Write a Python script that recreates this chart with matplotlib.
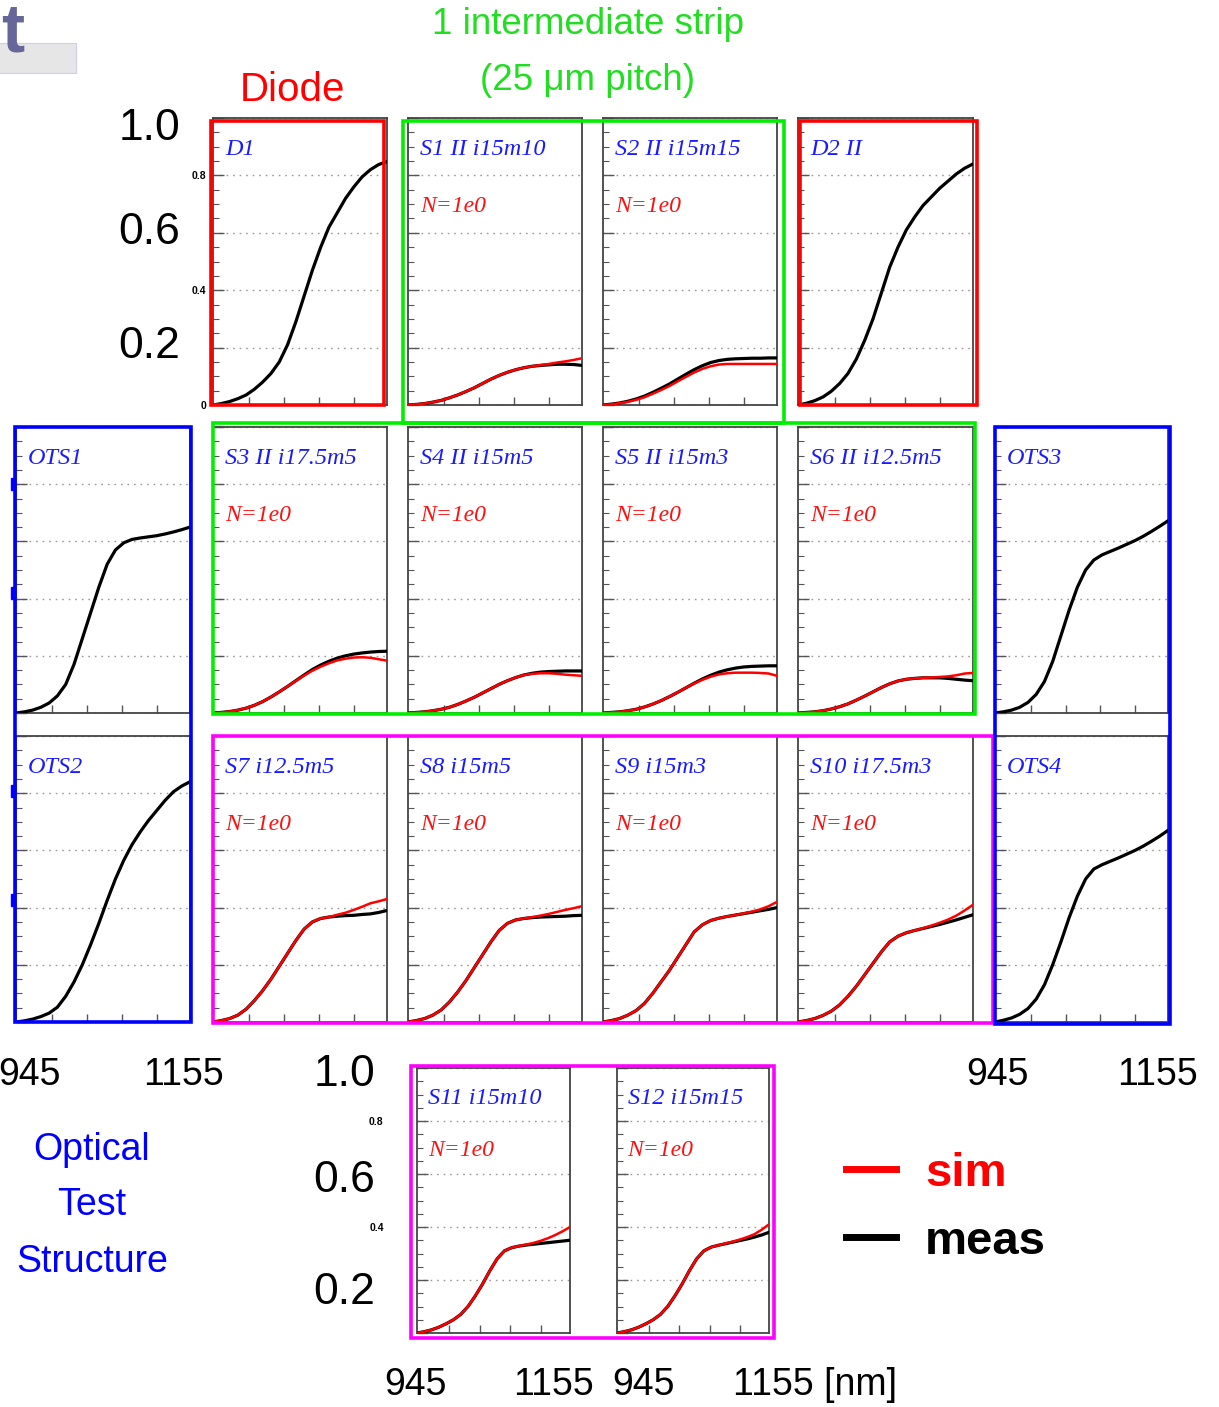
import matplotlib
matplotlib.use("Agg")
import matplotlib.pyplot as plt
from matplotlib.patches import Rectangle
from matplotlib.lines import Line2D

# ---------------------------------------------------------------- data
WAVELENGTH_NM = [945, 955, 965, 975, 985, 995, 1005, 1015, 1025, 1035, 1045,
                 1055, 1065, 1075, 1085, 1095, 1105, 1115, 1125, 1135, 1145, 1155]

D1_MEAS = [0.000, 0.005, 0.012, 0.022, 0.035, 0.055, 0.080, 0.110, 0.150, 0.210, 0.290,
           0.380, 0.470, 0.550, 0.620, 0.670, 0.720, 0.760, 0.795, 0.820, 0.838, 0.848]
D2_MEAS = [0.000, 0.006, 0.015, 0.028, 0.048, 0.075, 0.110, 0.160, 0.225, 0.300, 0.390,
           0.480, 0.550, 0.610, 0.655, 0.695, 0.725, 0.755, 0.780, 0.805, 0.825, 0.840]
OTS1_MEAS = [0.000, 0.004, 0.010, 0.020, 0.035, 0.060, 0.100, 0.170, 0.260, 0.350, 0.440,
             0.520, 0.570, 0.595, 0.607, 0.612, 0.616, 0.620, 0.626, 0.633, 0.641, 0.650]
OTS2_MEAS = [0.000, 0.004, 0.010, 0.019, 0.031, 0.052, 0.090, 0.140, 0.200, 0.270, 0.345,
             0.425, 0.500, 0.565, 0.620, 0.665, 0.705, 0.740, 0.775, 0.805, 0.825, 0.840]
OTS3_MEAS = [0.000, 0.004, 0.010, 0.020, 0.037, 0.065, 0.110, 0.180, 0.270, 0.360, 0.440,
             0.500, 0.535, 0.553, 0.565, 0.577, 0.590, 0.603, 0.618, 0.635, 0.653, 0.672]
OTS4_MEAS = [0.000, 0.006, 0.014, 0.027, 0.047, 0.080, 0.130, 0.200, 0.280, 0.365, 0.440,
             0.500, 0.535, 0.550, 0.562, 0.574, 0.587, 0.600, 0.615, 0.632, 0.650, 0.670]

S1_MEAS = [0.000, 0.002, 0.005, 0.010, 0.016, 0.025, 0.035, 0.047, 0.060, 0.075, 0.090,
           0.103, 0.114, 0.123, 0.130, 0.135, 0.138, 0.140, 0.142, 0.142, 0.141, 0.138]
S1_SIM = [0.000, 0.002, 0.005, 0.010, 0.016, 0.025, 0.035, 0.047, 0.060, 0.075, 0.090,
          0.103, 0.114, 0.123, 0.130, 0.135, 0.139, 0.143, 0.148, 0.152, 0.157, 0.163]
S2_MEAS = [0.000, 0.003, 0.007, 0.013, 0.021, 0.031, 0.044, 0.058, 0.073, 0.090, 0.107,
           0.123, 0.137, 0.148, 0.155, 0.159, 0.161, 0.162, 0.163, 0.163, 0.164, 0.164]
S2_SIM = [0.000, 0.002, 0.006, 0.011, 0.018, 0.027, 0.039, 0.052, 0.066, 0.082, 0.098,
          0.113, 0.126, 0.135, 0.141, 0.143, 0.143, 0.143, 0.143, 0.143, 0.143, 0.143]
S3_MEAS = [0.000, 0.002, 0.005, 0.010, 0.017, 0.027, 0.040, 0.056, 0.074, 0.093, 0.113,
           0.133, 0.152, 0.168, 0.181, 0.192, 0.200, 0.206, 0.210, 0.213, 0.215, 0.216]
S3_SIM = [0.000, 0.002, 0.005, 0.010, 0.017, 0.027, 0.040, 0.056, 0.074, 0.093, 0.112,
          0.131, 0.148, 0.162, 0.174, 0.184, 0.190, 0.194, 0.195, 0.193, 0.188, 0.183]
S4_MEAS = [0.000, 0.002, 0.004, 0.008, 0.013, 0.020, 0.030, 0.042, 0.055, 0.070, 0.085,
           0.100, 0.113, 0.124, 0.133, 0.139, 0.143, 0.145, 0.146, 0.147, 0.147, 0.147]
S4_SIM = [0.000, 0.002, 0.004, 0.008, 0.013, 0.020, 0.030, 0.042, 0.055, 0.070, 0.085,
          0.100, 0.113, 0.124, 0.133, 0.137, 0.139, 0.139, 0.137, 0.134, 0.132, 0.130]
S5_MEAS = [0.000, 0.002, 0.004, 0.008, 0.013, 0.021, 0.031, 0.043, 0.057, 0.072, 0.088,
           0.104, 0.119, 0.132, 0.143, 0.151, 0.157, 0.161, 0.163, 0.164, 0.165, 0.165]
S5_SIM = [0.000, 0.002, 0.004, 0.008, 0.013, 0.021, 0.031, 0.043, 0.057, 0.072, 0.088,
          0.103, 0.116, 0.127, 0.135, 0.139, 0.141, 0.141, 0.141, 0.140, 0.138, 0.130]
S6_MEAS = [0.000, 0.002, 0.004, 0.008, 0.014, 0.022, 0.032, 0.045, 0.059, 0.074, 0.089,
           0.102, 0.112, 0.118, 0.121, 0.123, 0.123, 0.123, 0.121, 0.118, 0.115, 0.113]
S6_SIM = [0.000, 0.002, 0.004, 0.008, 0.014, 0.022, 0.032, 0.045, 0.059, 0.074, 0.089,
          0.102, 0.112, 0.118, 0.121, 0.123, 0.124, 0.126, 0.128, 0.132, 0.138, 0.140]
S7_MEAS = [0.000, 0.005, 0.012, 0.024, 0.045, 0.075, 0.110, 0.150, 0.195, 0.240, 0.285,
           0.325, 0.350, 0.362, 0.367, 0.370, 0.372, 0.373, 0.376, 0.378, 0.383, 0.390]
S7_SIM = [0.000, 0.005, 0.012, 0.024, 0.045, 0.075, 0.110, 0.150, 0.195, 0.240, 0.285,
          0.325, 0.350, 0.362, 0.367, 0.375, 0.382, 0.392, 0.403, 0.415, 0.422, 0.430]
S8_MEAS = [0.000, 0.005, 0.012, 0.024, 0.042, 0.070, 0.105, 0.145, 0.190, 0.235, 0.280,
           0.320, 0.345, 0.357, 0.362, 0.365, 0.367, 0.368, 0.369, 0.370, 0.372, 0.373]
S8_SIM = [0.000, 0.005, 0.012, 0.024, 0.042, 0.070, 0.105, 0.145, 0.190, 0.235, 0.280,
          0.320, 0.345, 0.357, 0.362, 0.367, 0.372, 0.378, 0.385, 0.392, 0.398, 0.405]
S9_MEAS = [0.000, 0.005, 0.012, 0.024, 0.040, 0.065, 0.100, 0.140, 0.180, 0.225, 0.270,
           0.315, 0.340, 0.355, 0.363, 0.369, 0.374, 0.379, 0.384, 0.389, 0.394, 0.400]
S9_SIM = [0.000, 0.005, 0.012, 0.024, 0.040, 0.065, 0.100, 0.140, 0.180, 0.225, 0.270,
          0.315, 0.340, 0.355, 0.363, 0.369, 0.374, 0.380, 0.386, 0.394, 0.405, 0.420]
S10_MEAS = [0.000, 0.005, 0.012, 0.023, 0.038, 0.060, 0.090, 0.125, 0.165, 0.205, 0.245,
            0.280, 0.300, 0.312, 0.320, 0.327, 0.334, 0.341, 0.349, 0.357, 0.366, 0.375]
S10_SIM = [0.000, 0.005, 0.012, 0.023, 0.038, 0.060, 0.090, 0.125, 0.165, 0.205, 0.245,
           0.280, 0.300, 0.312, 0.320, 0.328, 0.337, 0.347, 0.358, 0.372, 0.390, 0.410]
S11_MEAS = [0.000, 0.005, 0.012, 0.022, 0.035, 0.050, 0.070, 0.100, 0.140, 0.185, 0.235,
            0.280, 0.310, 0.322, 0.328, 0.332, 0.335, 0.338, 0.341, 0.344, 0.347, 0.350]
S11_SIM = [0.000, 0.005, 0.012, 0.022, 0.035, 0.050, 0.070, 0.100, 0.140, 0.185, 0.235,
           0.280, 0.310, 0.322, 0.328, 0.334, 0.340, 0.348, 0.358, 0.370, 0.384, 0.400]
S12_MEAS = [0.000, 0.005, 0.012, 0.022, 0.035, 0.050, 0.070, 0.100, 0.140, 0.185, 0.235,
            0.280, 0.310, 0.324, 0.331, 0.337, 0.343, 0.349, 0.355, 0.362, 0.370, 0.380]
S12_SIM = [0.000, 0.005, 0.012, 0.022, 0.035, 0.050, 0.070, 0.100, 0.140, 0.185, 0.235,
           0.280, 0.310, 0.324, 0.331, 0.338, 0.345, 0.353, 0.362, 0.373, 0.390, 0.410]

PANEL_TITLES = {
    "D1": "D1", "S1": "S1 II i15m10", "S2": "S2 II i15m15", "D2": "D2 II",
    "OTS1": "OTS1", "S3": "S3 II i17.5m5", "S4": "S4 II i15m5", "S5": "S5 II i15m3",
    "S6": "S6 II i12.5m5", "OTS3": "OTS3",
    "OTS2": "OTS2", "S7": "S7 i12.5m5", "S8": "S8 i15m5", "S9": "S9 i15m3",
    "S10": "S10 i17.5m3", "OTS4": "OTS4",
    "S11": "S11 i15m10", "S12": "S12 i15m15",
}
SIM_NOTE = "N=1e0"
Y_MAJOR = [0.0, 0.2, 0.4, 0.6, 0.8, 1.0]
D1_YLABELS = ["0", "", "0.4", "", "0.8", ""]
S11_YLABELS = ["", "", "0.4", "", "0.8", ""]
X_TICKS = [989, 1031, 1073, 1115]
LEGEND_LABELS = ["sim", "meas"]

MEAS = {"D1": D1_MEAS, "D2": D2_MEAS, "OTS1": OTS1_MEAS, "OTS2": OTS2_MEAS,
        "OTS3": OTS3_MEAS, "OTS4": OTS4_MEAS,
        "S1": S1_MEAS, "S2": S2_MEAS, "S3": S3_MEAS, "S4": S4_MEAS, "S5": S5_MEAS,
        "S6": S6_MEAS, "S7": S7_MEAS, "S8": S8_MEAS, "S9": S9_MEAS, "S10": S10_MEAS,
        "S11": S11_MEAS, "S12": S12_MEAS}
SIM = {"S1": S1_SIM, "S2": S2_SIM, "S3": S3_SIM, "S4": S4_SIM, "S5": S5_SIM,
       "S6": S6_SIM, "S7": S7_SIM, "S8": S8_SIM, "S9": S9_SIM, "S10": S10_SIM,
       "S11": S11_SIM, "S12": S12_SIM}

# ---------------------------------------------------------------- layout (pixels)
W, H, DPI = 1219, 1407, 100
COLS = [(16, 190), (213, 387), (408, 582), (603, 777), (798, 973), (995, 1168)]
ROWS = [(118, 405), (427, 713), (736, 1022)]
LAYOUT = {
    "D1": (1, 0), "S1": (2, 0), "S2": (3, 0), "D2": (4, 0),
    "OTS1": (0, 1), "S3": (1, 1), "S4": (2, 1), "S5": (3, 1), "S6": (4, 1), "OTS3": (5, 1),
    "OTS2": (0, 2), "S7": (1, 2), "S8": (2, 2), "S9": (3, 2), "S10": (4, 2), "OTS4": (5, 2),
}
ROW4 = {"S11": (417, 1068, 570, 1333), "S12": (617, 1068, 769, 1333)}

SANS = ["Liberation Sans", "DejaVu Sans"]
SERIF = ["Liberation Serif", "DejaVu Serif"]

fig = plt.figure(figsize=(W / DPI, H / DPI), dpi=DPI)
fig.patch.set_facecolor("white")


def fx(x):
    return x / W


def fy(y):
    return 1 - y / H


def add_ax(x0, y0, x1, y1):
    return fig.add_axes([fx(x0), fy(y1), (x1 - x0) / W, (y1 - y0) / H])


def style(ax, ylabels=None, ypad=3):
    ax.set_xlim(945, 1155)
    ax.set_ylim(0, 1.0)
    ax.set_xticks(X_TICKS)
    ax.set_xticklabels([])
    ax.set_yticks(Y_MAJOR)
    ax.set_yticks([0.05 * i for i in range(21)], minor=True)
    if ylabels is None:
        ax.set_yticklabels([])
    else:
        ax.set_yticklabels(ylabels, fontsize=7.5, fontweight="bold", family=SANS)
    ax.tick_params(axis="y", which="major", direction="in", length=8, width=1.0,
                   color="#555555", left=True, right=False, pad=ypad)
    ax.tick_params(axis="y", which="minor", direction="in", length=4, width=0.8,
                   color="#555555", left=True, right=False)
    ax.tick_params(axis="x", which="major", direction="in", length=6, width=1.0,
                   color="#555555", bottom=True, top=False)
    ax.grid(True, axis="y", which="major", linestyle=(0, (1.2, 3.5)),
            color="#9a9a9a", linewidth=1.0)
    for s in ax.spines.values():
        s.set_color("#444444")
        s.set_linewidth(1.3)
    ax.set_facecolor("white")


def draw_panel(ax, key, title_y, note_y):
    if key in MEAS:
        ax.plot(WAVELENGTH_NM, MEAS[key], color="black", lw=2.3, zorder=3,
                solid_joinstyle="round", solid_capstyle="round")
    if key in SIM:
        ax.plot(WAVELENGTH_NM, SIM[key], color="#ff0000", lw=1.8, zorder=4,
                solid_joinstyle="round")
        ax.text(0.07, note_y, SIM_NOTE, transform=ax.transAxes, color="#ff1010",
                fontsize=17, style="italic", family=SERIF, va="center", ha="left")
    ax.text(0.07, title_y, PANEL_TITLES[key], transform=ax.transAxes, color="#1a1aff",
            fontsize=17.5, style="italic", family=SERIF, va="center", ha="left")


for key, (c, r) in LAYOUT.items():
    x0, x1 = COLS[c]
    y0, y1 = ROWS[r]
    ax = add_ax(x0, y0, x1, y1)
    style(ax, ylabels=D1_YLABELS if key == "D1" else None, ypad=5)
    draw_panel(ax, key, 0.89, 0.69)

for key, (x0, y0, x1, y1) in ROW4.items():
    ax = add_ax(x0, y0, x1, y1)
    style(ax, ylabels=S11_YLABELS if key == "S11" else None, ypad=24)
    draw_panel(ax, key, 0.885, 0.69)

# ---------------------------------------------------------------- coloured frames
def frame(x0, y0, x1, y1, color, lw=2.6):
    fig.add_artist(Rectangle((fx(x0), fy(y1)), (x1 - x0) / W, (y1 - y0) / H,
                             transform=fig.transFigure, fill=False,
                             edgecolor=color, linewidth=lw, zorder=10))


RED, GREEN, BLUE, MAGENTA = "#ff0000", "#00ee00", "#0000ff", "#ff00ff"
frame(211, 121, 384, 405, RED)
frame(800, 121, 977, 405, RED)
frame(403, 121, 784, 423, GREEN)
frame(213, 423, 975, 714, GREEN)
frame(213, 736, 993, 1023, MAGENTA)
frame(411, 1066, 774, 1338, MAGENTA)
frame(15, 427, 191, 1022, BLUE)
frame(995, 427, 1170, 1024, BLUE)
for yy in (484, 593, 791, 900):
    fig.add_artist(Rectangle((fx(11), fy(yy + 6)), 4 / W, 12 / H, transform=fig.transFigure,
                             color=BLUE, zorder=10))

# ---------------------------------------------------------------- slide title remnant
fig.add_artist(Rectangle((fx(-2), fy(73)), 78 / W, 30 / H, transform=fig.transFigure,
                         facecolor="#e6e6e6", edgecolor="#ccccff", linewidth=0.8, zorder=1))
fig.text(fx(1), fy(33), "t", color="#666699", fontsize=50, fontweight="bold",
         family=SANS, ha="left", va="center", zorder=2)

# ---------------------------------------------------------------- annotations
def label(x, y, s, color="black", size=27, weight="normal", ha="center"):
    fig.text(fx(x), fy(y), s, color=color, fontsize=size, fontweight=weight,
             family=SANS, ha=ha, va="center")


label(292, 90, "Diode", color="#ff0000", size=29)
label(588, 25, "1 intermediate strip", color="#22dd22", size=26.5)
label(587, 80, "(25 \u03bcm pitch)", color="#22dd22", size=26.5)

label(180, 128, "1.0", size=32, ha="right")
label(180, 233, "0.6", size=32, ha="right")
label(180, 346, "0.2", size=32, ha="right")
label(375, 1075, "1.0", size=32, ha="right")
label(375, 1180, "0.6", size=32, ha="right")
label(375, 1293, "0.2", size=32, ha="right")

label(30, 1075, "945", size=27)
label(183, 1075, "1155", size=27)
label(998, 1075, "945", size=27)
label(1158, 1075, "1155", size=27)
label(416, 1385, "945", size=27)
label(553, 1385, "1155", size=27)
label(643, 1385, "945", size=27)
label(733, 1385, "1155 [nm]", size=27, ha="left")

label(92, 1150, "Optical", color="#0000ff", size=27)
label(92, 1205, "Test", color="#0000ff", size=27)
label(92, 1262, "Structure", color="#0000ff", size=27)

handles = [Line2D([], [], color="#ff0000", lw=5), Line2D([], [], color="black", lw=5)]
fig.legend(handles, LEGEND_LABELS, loc="upper left",
           bbox_to_anchor=(fx(846), fy(1152)), frameon=False, borderpad=0,
           borderaxespad=0, handlelength=1.05, handletextpad=0.62, labelspacing=0.5,
           labelcolor=["#ff0000", "black"],
           prop={"family": SANS, "weight": "bold", "size": 34})

fig.savefig("out.png", dpi=DPI, facecolor="white")
